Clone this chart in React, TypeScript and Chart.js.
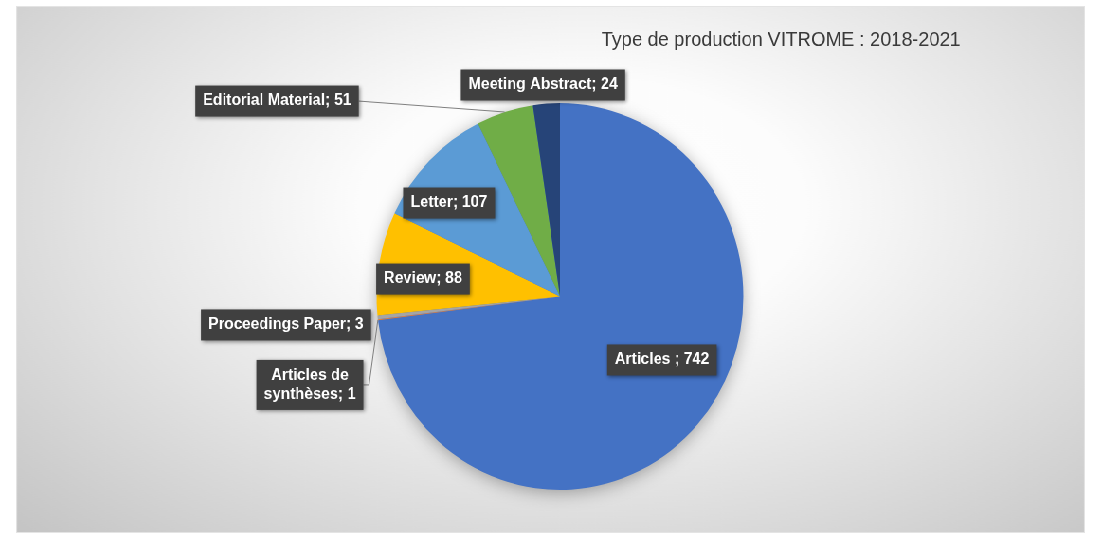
import React, { useEffect, useRef } from "react";
import { Chart, registerables } from "chart.js";

Chart.register(...registerables);

// ---- data ----
const categories = [
  "Articles ",
  "Articles de synthèses",
  "Proceedings Paper",
  "Review",
  "Letter",
  "Editorial Material",
  "Meeting Abstract",
];
const values = [742, 1, 3, 88, 107, 51, 24];
const sliceColors = ["#4472C4", "#ED7D31", "#A5A5A5", "#FFC000", "#5B9BD5", "#70AD47", "#264478"];
const chartTitle = "Type de production VITROME : 2018-2021";

// label placement, in units of the pie radius from the pie centre
const labelPlacement = [
  { dx: 0.556, dy: 0.328, leader: "none", wrap: 0 },
  { dx: -1.364, dy: 0.457, leader: "elbow", wrap: 110 },
  { dx: -1.494, dy: 0.147, leader: "none", wrap: 0 },
  { dx: -0.747, dy: -0.09, leader: "none", wrap: 0 },
  { dx: -0.605, dy: -0.483, leader: "none", wrap: 0 },
  { dx: -1.543, dy: -1.01, leader: "straight", wrap: 0 },
  { dx: -0.0925, dy: -1.093, leader: "none", wrap: 0 },
];

const INNER_W = 1128;
const INNER_H = 527;
const SCALE_X = 1069 / INNER_W;

function wrapText(ctx: CanvasRenderingContext2D, text: string, maxW: number): string[] {
  if (!maxW) return [text];
  const words = text.split(" ");
  const lines: string[] = [];
  let cur = "";
  for (const w of words) {
    const test = cur ? cur + " " + w : w;
    if (ctx.measureText(test).width > maxW && cur) {
      lines.push(cur);
      cur = w;
    } else cur = test;
  }
  if (cur) lines.push(cur);
  return lines;
}

const pieShadow = {
  id: "pieShadow",
  beforeDatasetsDraw(chart: any) {
    const meta = chart.getDatasetMeta(0);
    const a = meta.data[0];
    if (!a) return;
    const ctx = chart.ctx;
    ctx.save();
    ctx.shadowColor = "rgba(0,0,0,0.35)";
    ctx.shadowBlur = 18;
    ctx.shadowOffsetY = 3;
    ctx.fillStyle = "#4472C4";
    ctx.beginPath();
    ctx.arc(a.x, a.y, a.outerRadius - 1, 0, Math.PI * 2);
    ctx.fill();
    ctx.restore();
  },
};

const labelsPlugin = {
  id: "boxLabels",
  afterDatasetsDraw(chart: any) {
    const ctx: CanvasRenderingContext2D = chart.ctx;
    const meta = chart.getDatasetMeta(0);
    const a0 = meta.data[0];
    const cx = a0.x;
    const cy = a0.y;
    const r = a0.outerRadius;

    // title
    ctx.save();
    ctx.font = '20px "Liberation Sans", Arial, sans-serif';
    ctx.fillStyle = "#3a3a3a";
    ctx.textAlign = "center";
    ctx.textBaseline = "middle";
    ctx.fillText(chartTitle, chart.width * 0.7156, 34);
    ctx.restore();

    ctx.save();
    ctx.font = 'bold 16px "Liberation Sans", Arial, sans-serif';
    const lineH = 19;
    const padX = 8;
    const padY = 5;
    categories.forEach((cat, i) => {
      const p = labelPlacement[i];
      const arc = meta.data[i];
      const text = `${cat}; ${values[i]}`;
      const lines = wrapText(ctx, text, p.wrap);
      const tw = Math.max(...lines.map((l) => ctx.measureText(l).width));
      const bw = tw + padX * 2;
      const bh = lines.length * lineH + padY * 2 + 2;
      const bx = cx + p.dx * r - bw / 2;
      const by = cy + p.dy * r - bh / 2;
      const mid = (arc.startAngle + arc.endAngle) / 2;
      const ex = cx + Math.cos(mid) * r;
      const ey = cy + Math.sin(mid) * r;

      if (p.leader !== "none") {
        ctx.save();
        ctx.strokeStyle = "#7f7f7f";
        ctx.lineWidth = 1;
        ctx.beginPath();
        const sx = bx + bw;
        const sy = by + bh / 2;
        ctx.moveTo(sx, sy);
        if (p.leader === "elbow") ctx.lineTo(sx + 6, sy);
        ctx.lineTo(ex, ey);
        ctx.stroke();
        ctx.restore();
      }

      ctx.save();
      ctx.shadowColor = "rgba(0,0,0,0.45)";
      ctx.shadowBlur = 4;
      ctx.shadowOffsetX = 1.5;
      ctx.shadowOffsetY = 1.5;
      ctx.fillStyle = "#404040";
      ctx.fillRect(bx, by, bw, bh);
      ctx.restore();

      ctx.fillStyle = "#ffffff";
      ctx.textAlign = "center";
      ctx.textBaseline = "middle";
      lines.forEach((l, k) => {
        ctx.fillText(l, bx + bw / 2, by + padY + 1 + lineH * (k + 0.5));
      });
    });
    ctx.restore();
  },
};

export default function App() {
  const ref = useRef<HTMLCanvasElement>(null);
  useEffect(() => {
    if (!ref.current) return;
    const chart = new Chart(ref.current, {
      type: "pie",
      data: {
        labels: categories,
        datasets: [
          {
            data: values,
            backgroundColor: sliceColors,
            borderWidth: 0,
          },
        ],
      },
      options: {
        animation: false,
        responsive: true,
        maintainAspectRatio: false,
        layout: { padding: { top: 97, bottom: 43, left: 20, right: 0 } },
        plugins: {
          legend: { display: false },
          title: { display: false },
          tooltip: { enabled: false },
        },
      },
      plugins: [pieShadow, labelsPlugin],
    });
    return () => chart.destroy();
  }, []);

  return (
    <div
      style={{
        position: "absolute",
        left: 16,
        top: 6,
        width: INNER_W,
        height: INNER_H,
        transform: `scaleX(${SCALE_X})`,
        transformOrigin: "0 0",
        background:
          "radial-gradient(ellipse farthest-corner at 53% 38%, #ffffff 0%, #fcfcfc 28%, #e2e2e2 62%, #c4c4c4 100%)",
        boxShadow: "inset 0 0 0 1px #e4e4e4",
      }}
    >
      <canvas ref={ref} />
    </div>
  );
}
